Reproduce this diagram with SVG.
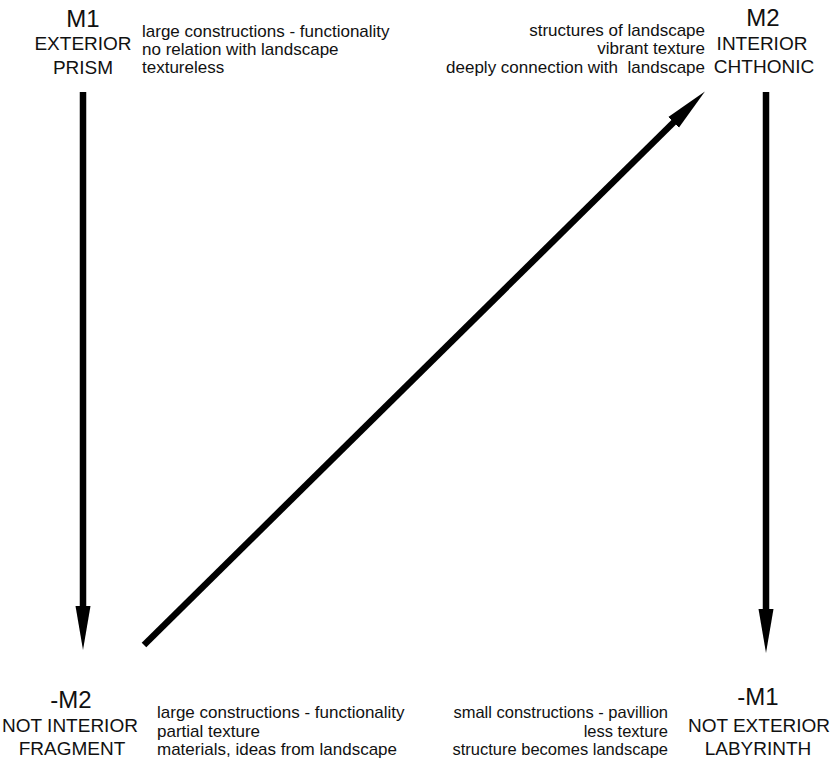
<svg xmlns="http://www.w3.org/2000/svg" width="836" height="763" viewBox="0 0 836 763">
<style>
.h{font-family:"Liberation Sans","DejaVu Sans",sans-serif;fill:#111;text-anchor:middle}
.m{font-size:24px}
.c{font-size:19px}
.s{font-family:"Liberation Sans","DejaVu Sans",sans-serif;fill:#111;font-size:17px}
.r{text-anchor:end}
.sm{font-size:16.5px}
.ln{stroke:#000;stroke-width:6.5;fill:none;marker-end:url(#ah)}
</style>
<defs>
<marker id="ah" markerUnits="userSpaceOnUse" viewBox="0 -8 44 16" refX="2" refY="0" markerWidth="44" markerHeight="16" orient="auto">
<path d="M0,-7.5 L44,0 L0,7.5 Z" fill="#000"/>
</marker>
</defs>
<g id="connectors">
<line class="ln" x1="83" y1="92" x2="83" y2="608"/>
<line class="ln" x1="766" y1="92" x2="766" y2="611"/>
<line class="ln" x1="144" y1="645" x2="675" y2="121"/>
</g>
<g id="m1">
<text class="h m" x="83" y="27">M1</text>
<text class="h c" x="83" y="50">EXTERIOR</text>
<text class="h c" x="83" y="74">PRISM</text>
<text class="s" x="142" y="37">large constructions - functionality</text>
<text class="s" x="142" y="55">no relation with landscape</text>
<text class="s" x="142" y="73">textureless</text>
</g>
<g id="m2">
<text class="h m" x="763" y="26">M2</text>
<text class="h c" x="762" y="50">INTERIOR</text>
<text class="h c" x="764" y="73">CHTHONIC</text>
<text class="s r" x="705" y="36">structures of landscape</text>
<text class="s r" x="705" y="54">vibrant texture</text>
<text class="s r" x="705" y="73" xml:space="preserve">deeply connection with  landscape</text>
</g>
<g id="not-m2">
<text class="h m" x="71" y="708">-M2</text>
<text class="h c" x="70" y="732">NOT INTERIOR</text>
<text class="h c" x="72" y="755">FRAGMENT</text>
<text class="s" x="157" y="718">large constructions - functionality</text>
<text class="s" x="157" y="737">partial texture</text>
<text class="s" x="157" y="755">materials, ideas from landscape</text>
</g>
<g id="not-m1">
<text class="h m" x="758" y="705">-M1</text>
<text class="h c" x="759" y="732">NOT EXTERIOR</text>
<text class="h c" x="758" y="755">LABYRINTH</text>
<text class="s sm r" x="668" y="718">small constructions - pavillion</text>
<text class="s sm r" x="668" y="737">less texture</text>
<text class="s sm r" x="668" y="755">structure becomes landscape</text>
</g>
</svg>
